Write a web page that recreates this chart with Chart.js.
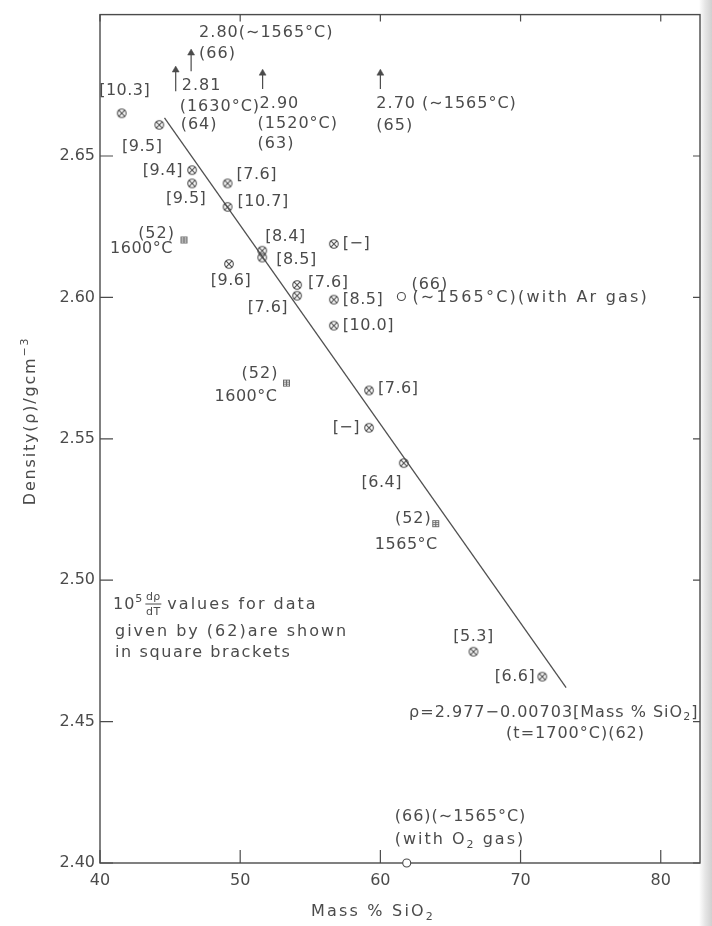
<!DOCTYPE html>
<html>
<head>
<meta charset="utf-8">
<title>Density vs Mass % SiO2</title>
<script src="https://cdn.jsdelivr.net/npm/chart.js@4.4.1/dist/chart.umd.min.js"></script>
<style>
  html, body { margin: 0; padding: 0; }
  body { width: 712px; height: 926px; background: linear-gradient(to right, #fff 0, #fff 699px, #e6e6e6 705px, #d0d0d0 712px); }
  canvas { display: block; }
</style>
</head>
<body>
<canvas id="densityChart" width="712" height="926"></canvas>
<script>
const INK = '#4b4b4b';
const FONT = '"DejaVu Sans", sans-serif';

// axis ticks
const xTicks = [40, 50, 60, 70, 80];
const yTicks = [2.40, 2.45, 2.50, 2.55, 2.60, 2.65];

// (62): density at 1700 C, each point tagged with 10^5 dp/dT
const silica62 = [41.55, 44.23, 46.57, 46.57, 49.10, 49.10, 51.57, 51.57, 49.20, 54.06, 54.06, 56.68, 56.68, 56.68, 59.19, 59.19, 61.67, 66.64, 71.55];
const density62 = [2.6651, 2.6610, 2.6450, 2.6403, 2.6403, 2.6320, 2.6165, 2.6141, 2.6118, 2.6044, 2.6006, 2.6189, 2.5992, 2.5900, 2.5671, 2.5539, 2.5414, 2.4747, 2.4659];
const slope62 = ['10.3', '9.5', '9.4', '9.5', '7.6', '10.7', '8.4', '8.5', '9.6', '7.6', '7.6', '−', '8.5', '10.0', '7.6', '−', '6.4', '5.3', '6.6'];

// (52)
const silica52 = [45.99, 53.30, 63.95];
const density52 = [2.6203, 2.5697, 2.5200];
const temp52 = ['1600°C', '1600°C', '1565°C'];

// (66), open circles
const silica66 = [61.50, 61.88];
const density66 = [2.6003, 2.4000];

// values above the top of the scale, shown as arrows
const arrowSilica = [45.4, 46.5, 51.6, 60.0];
const arrowFrom = [2.6729, 2.6800, 2.6737, 2.6737];
const arrowTo = [2.6804, 2.6864, 2.6793, 2.6793];
const arrowText = [
  ['2.81', '(1630°C)', '(64)'],
  ['2.80(∼1565°C)', '(66)'],
  ['2.90', '(1520°C)', '(63)'],
  ['2.70 (∼1565°C)', '(65)']
];

// regression for (62): p = 2.977 - 0.00703 [Mass % SiO2]
const fitCoef = [2.977, -0.00703];
const fitRange = [44.6, 73.25];

// label placement: [dx, dy, align] from the point, in px
const pos62 = [
  [3, -22, 'center'], [-17, 22, 'center'], [-9, 1, 'right'], [-6, 15, 'center'],
  [9, -9, 'left'], [10, -5, 'left'], [3, -14, 'left'], [14, 2, 'left'],
  [2, 17, 'center'], [11, -2, 'left'], [-9, 12, 'right'], [9, 0, 'left'],
  [9, 0, 'left'], [9, 0, 'left'], [9, -2, 'left'], [-9, 0, 'right'],
  [-22, 20, 'center'], [0, -15, 'center'], [-7, 0, 'right']
];
const pos52 = [
  [[-9, -6], [-11, 9]],
  [[-8, -9], [-9, 14]],
  [[-4, -5], [2, 21]]
];
const posArrow = [
  [[6, -5], [4, 16], [5, 34]],
  [[8, -38], [8, -17]],
  [[-3, 15], [-5, 35], [-5, 55]],
  [[-4, 15], [-4, 37]]
];

function symbolCrossed() {
  const c = document.createElement('canvas');
  c.width = c.height = 12;
  const g = c.getContext('2d');
  g.strokeStyle = INK; g.lineWidth = 1.1;
  g.beginPath(); g.arc(6, 6, 4.3, 0, Math.PI * 2); g.stroke();
  const d = 4.3 * Math.SQRT1_2;
  g.beginPath();
  g.moveTo(6 - d, 6 - d); g.lineTo(6 + d, 6 + d);
  g.moveTo(6 + d, 6 - d); g.lineTo(6 - d, 6 + d);
  g.stroke();
  return c;
}

function symbolBox() {
  const c = document.createElement('canvas');
  c.width = c.height = 9;
  const g = c.getContext('2d');
  g.strokeStyle = '#6a6a6a'; g.lineWidth = 1;
  g.strokeRect(1.5, 1.5, 6, 6);
  g.beginPath();
  g.moveTo(1.5, 3.5); g.lineTo(7.5, 3.5);
  g.moveTo(1.5, 5.5); g.lineTo(7.5, 5.5);
  g.moveTo(4.5, 1.5); g.lineTo(4.5, 7.5);
  g.stroke();
  return c;
}

// draws text in pieces: shift 1 = superscript, -1 = subscript
function write(ctx, parts, px, py, align, spacing) {
  ctx.save();
  ctx.fillStyle = INK;
  ctx.textAlign = 'left';
  ctx.textBaseline = 'middle';
  ctx.letterSpacing = (spacing == null ? 1 : spacing) + 'px';
  const fontOf = s => (s ? 11 : 16) + 'px ' + FONT;
  let w = 0;
  parts.forEach(([t, s]) => { ctx.font = fontOf(s); w += ctx.measureText(t).width; });
  let cx = align === 'right' ? px - w : align === 'center' ? px - w / 2 : px;
  parts.forEach(([t, s]) => {
    ctx.font = fontOf(s);
    ctx.fillText(t, cx, py + (s > 0 ? -6 : s < 0 ? 5 : 0));
    cx += ctx.measureText(t).width;
  });
  ctx.restore();
  return w;
}

const frame = {
  id: 'frame',
  beforeDatasetsDraw(chart) {
    const { ctx, chartArea: a, scales: { x, y } } = chart;
    ctx.save();
    ctx.strokeStyle = INK;
    ctx.lineWidth = 1.4;
    ctx.strokeRect(a.left, a.top, a.right - a.left, a.bottom - a.top);
    ctx.lineWidth = 1.2;
    ctx.beginPath();
    x.ticks.forEach(t => {
      const px = x.getPixelForValue(t.value);
      ctx.moveTo(px, a.bottom); ctx.lineTo(px, a.bottom - 13);
      ctx.moveTo(px, a.top); ctx.lineTo(px, a.top + 7);
    });
    y.ticks.forEach(t => {
      const py = y.getPixelForValue(t.value);
      ctx.moveTo(a.left, py); ctx.lineTo(a.left + 13, py);
      ctx.moveTo(a.right, py); ctx.lineTo(a.right - 7, py);
    });
    ctx.stroke();
    ctx.restore();
  },
  afterDatasetsDraw(chart) {
    const { ctx, chartArea: a, scales: { x, y } } = chart;

    silica62.forEach((m, i) => {
      const [dx, dy, al] = pos62[i];
      write(ctx, [['[' + slope62[i] + ']', 0]], x.getPixelForValue(m) + dx, y.getPixelForValue(density62[i]) + dy, al, 0.5);
    });

    silica52.forEach((m, i) => {
      const px = x.getPixelForValue(m), py = y.getPixelForValue(density52[i]);
      const [p1, p2] = pos52[i];
      write(ctx, [['(52)', 0]], px + p1[0], py + p1[1], 'right', 1);
      write(ctx, [[temp52[i], 0]], px + p2[0], py + p2[1], 'right', 0.5);
    });

    // (66) with Ar gas
    let px = x.getPixelForValue(silica66[0]), py = y.getPixelForValue(density66[0]);
    write(ctx, [['(66)', 0]], px + 10, py - 12, 'left', 1);
    write(ctx, [['(∼1565°C)(with Ar gas)', 0]], px + 11, py + 1, 'left', 2.2);
    // (66) with O2 gas
    px = x.getPixelForValue(silica66[1]); py = y.getPixelForValue(density66[1]);
    write(ctx, [['(66)(∼1565°C)', 0]], px - 12, py - 46, 'left', 1);
    write(ctx, [['(with O', 0], ['2', -1], [' gas)', 0]], px - 12, py - 23, 'left', 2);

    arrowSilica.forEach((m, i) => {
      const bx = x.getPixelForValue(m), by = y.getPixelForValue(arrowFrom[i]);
      arrowText[i].forEach((t, k) => {
        write(ctx, [[t, 0]], bx + posArrow[i][k][0], by + posArrow[i][k][1], 'left', 1);
      });
    });

    // regression equation under the end of the line
    const ex = x.getPixelForValue(fitRange[1]);
    const ey = y.getPixelForValue(fitCoef[0] + fitCoef[1] * fitRange[1]);
    write(ctx, [['ρ=2.977−0.00703[Mass % SiO', 0], ['2', -1], [']', 0]], ex - 157, ey + 25, 'left', 1);
    write(ctx, [['(t=1700°C)(62)', 0]], ex - 60, ey + 46, 'left', 1);

    // note on the bracketed values
    const nx = a.left + 13, ny = a.bottom - 258;
    let w = write(ctx, [['10', 0], ['5', 1]], nx, ny, 'left', 1);
    const fx = nx + w + 10;
    write(ctx, [['dρ', 1]], fx, ny - 2, 'center', 0.5);
    write(ctx, [['dT', 1]], fx, ny + 13, 'center', 0.5);
    ctx.save();
    ctx.strokeStyle = INK; ctx.lineWidth = 1;
    ctx.beginPath(); ctx.moveTo(fx - 8, ny - 1); ctx.lineTo(fx + 8, ny - 1); ctx.stroke();
    ctx.restore();
    write(ctx, [['values for data', 0]], fx + 14, ny, 'left', 2);
    write(ctx, [['given by (62)are shown', 0]], nx + 2, ny + 27, 'left', 2);
    write(ctx, [['in square brackets', 0]], nx + 2, ny + 48, 'left', 1.6);

    // axis titles
    write(ctx, [['Mass % SiO', 0], ['2', -1]], 373, a.bottom + 49, 'center', 2.2);
    ctx.save();
    ctx.translate(31, 421);
    ctx.rotate(-Math.PI / 2);
    write(ctx, [['Density(ρ)/gcm', 0], ['−3', 1]], 0, 0, 'center', 1.8);
    ctx.restore();
  }
};

const crossed = symbolCrossed();
const boxed = symbolBox();

const arrowSets = arrowSilica.map((m, i) => ({
  data: [{ x: m, y: arrowFrom[i] }, { x: m, y: arrowTo[i] }],
  showLine: true,
  borderColor: INK,
  borderWidth: 1.2,
  pointRadius: [0, 4],
  pointStyle: 'triangle',
  pointBackgroundColor: INK,
  pointBorderColor: INK,
  pointBorderWidth: 0.5,
  clip: false
}));

new Chart(document.getElementById('densityChart'), {
  type: 'scatter',
  data: {
    datasets: [
      {
        data: silica62.map((m, i) => ({ x: m, y: density62[i] })),
        pointStyle: crossed,
        pointRadius: 5
      },
      {
        data: silica52.map((m, i) => ({ x: m, y: density52[i] })),
        pointStyle: boxed,
        pointRadius: 4
      },
      {
        data: silica66.map((m, i) => ({ x: m, y: density66[i] })),
        pointStyle: 'circle',
        pointRadius: 4,
        pointBackgroundColor: '#fff',
        pointBorderColor: INK,
        pointBorderWidth: 1.1,
        clip: false
      },
      ...arrowSets,
      {
        data: fitRange.map(m => ({ x: m, y: fitCoef[0] + fitCoef[1] * m })),
        showLine: true,
        borderColor: '#505050',
        borderWidth: 1.3,
        pointRadius: 0
      }
    ]
  },
  options: {
    responsive: false,
    animation: false,
    devicePixelRatio: 1,
    events: [],
    layout: { padding: { top: 12, right: 12, left: 0, bottom: 0 } },
    plugins: { legend: { display: false }, tooltip: { enabled: false } },
    scales: {
      x: {
        type: 'linear',
        min: 40,
        max: 82.8,
        afterBuildTicks: s => { s.ticks = xTicks.map(v => ({ value: v })); },
        afterFit: s => { s.height = 63; },
        grid: { display: false, drawTicks: false },
        border: { display: false },
        ticks: { padding: 8, color: INK, font: { family: FONT, size: 16 }, maxRotation: 0 }
      },
      y: {
        type: 'linear',
        min: 2.40,
        max: 2.70,
        afterBuildTicks: s => { s.ticks = yTicks.map(v => ({ value: v })); },
        afterFit: s => { s.width = 100; },
        grid: { display: false, drawTicks: false },
        border: { display: false },
        ticks: { padding: 5, color: INK, font: { family: FONT, size: 16 }, callback: v => v.toFixed(2) }
      }
    }
  },
  plugins: [frame]
});
</script>
</body>
</html>
